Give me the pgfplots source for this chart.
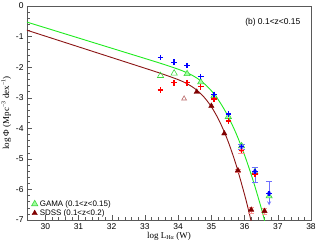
\documentclass[border=0pt]{standalone}
\usepackage{fontspec}
\setmainfont{Liberation Sans}
\newfontfamily\serif{Liberation Serif}
\usepackage{pgfplots}
\pgfplotsset{compat=1.18}
\definecolor{gline}{RGB}{30,235,30}
\definecolor{bline}{RGB}{139,20,20}
\definecolor{gfill}{RGB}{160,255,160}
\definecolor{gedge}{RGB}{60,215,60}
\definecolor{sdss}{RGB}{128,0,0}
\definecolor{obrown}{RGB}{185,105,105}
\definecolor{eblue}{RGB}{110,110,255}
\definecolor{ered}{RGB}{255,150,150}
\begin{document}
\begin{tikzpicture}
\begin{axis}[
  scale only axis, width=284bp, height=214bp,
  xmin=29.45, xmax=38, ymin=-7, ymax=0,
  xtick={30,...,38}, ytick={-7,...,0},
  minor x tick num=4, minor y tick num=4,
  tick align=inside, xtick pos=left, ytick pos=left,
  major tick length=5bp, minor tick length=3bp,
  axis line style={black!65}, every tick/.style={black!65},
  tick label style={font=\fontsize{8.5}{9}\selectfont},
  /pgf/number format/assume math mode=true,
  xlabel={log L\textsubscript{Hα} (W)},
  ylabel={log Φ (Mpc\textsuperscript{−3} dex\textsuperscript{−1})},
  label style={font=\serif\fontsize{9}{10}\selectfont},
  xlabel style={yshift=4pt},
  ylabel style={yshift=-2pt},
  legend style={at={(rel axis cs:0.012,0.0)}, anchor=south west, draw=none, fill=none,
    font=\fontsize{8}{9}\selectfont, row sep=-2pt, inner sep=1pt},
  legend image code/.code={\draw[#1,mark repeat=2,mark phase=2] plot coordinates {(0cm,0cm)(0.15cm,0cm)(0.3cm,0cm)};},
  legend cell align=left,
]
% Fitted curves
\addplot[gline, line width=0.9pt, smooth, forget plot] coordinates {
(29.4,-0.510) (30,-0.711) (31,-1.046) (32,-1.381) (33,-1.716) (33.5,-1.885)
(34,-2.067) (34.25,-2.176) (34.5,-2.314) (34.75,-2.506) (35,-2.772) (35.25,-3.134)
(35.5,-3.601) (35.75,-4.181) (36,-4.876) (36.25,-5.683) (36.5,-6.602) (36.7,-7.42)};
\addplot[bline, line width=0.9pt, smooth, forget plot] coordinates {
(29.4,-0.775) (30,-0.985) (31,-1.335) (32,-1.685) (33,-2.035) (33.5,-2.213)
(34,-2.408) (34.25,-2.532) (34.5,-2.700) (34.75,-2.943) (35,-3.294) (35.25,-3.780)
(35.5,-4.417) (35.75,-5.212) (36,-6.169) (36.1,-6.596) (36.2,-7.05) (36.3,-7.53)};
% GAMA open triangles
\addplot[only marks, mark=triangle, mark size=3.6pt, mark options={draw=gedge, fill=white, line width=0.6pt}, forget plot] coordinates {
(33.47,-2.28) (33.88,-2.20)};
% GAMA filled triangles
\addplot[only marks, mark=triangle*, mark size=3.6pt, mark options={draw=gedge, fill=gfill, line width=0.6pt}, forget plot] coordinates {
(34.27,-2.22) (34.68,-2.49) (35.08,-2.94) (35.51,-3.62) (35.91,-4.58) (36.31,-5.43) (36.74,-6.22)};
% red error bars
\addplot[ered, only marks, mark=none, forget plot,
  error bars/.cd, y dir=both, y explicit, error bar style={ered, line width=0.6pt},
  error mark options={rotate=90, mark size=3.2pt, ered, line width=0.6pt}] coordinates {
(35.91,-4.72) +- (0,0.1) (36.31,-5.47) += (0,0.2) -= (0,0.3)};
% red crosses
\addplot[red, only marks, mark=+, mark size=2.8pt, mark options={red, line width=1.5pt}, forget plot] coordinates {
(33.47,-2.75) (33.88,-2.51) (34.27,-2.51) (34.68,-2.64)
(35.08,-3.04) (35.51,-3.76) (35.91,-4.72) (36.31,-5.50)};
% blue error bars
\addplot[eblue, only marks, mark=none, forget plot,
  error bars/.cd, y dir=both, y explicit, error bar style={eblue, line width=0.7pt},
  error mark options={rotate=90, mark size=3.2pt, eblue, line width=0.6pt}] coordinates {
(35.91,-4.60) +- (0,0.09) (36.31,-5.42) += (0,0.15) -= (0,0.34) (36.74,-6.13) += (0,0.38) -= (0,0)};
% blue crosses
\addplot[blue, only marks, mark=+, mark size=2.8pt, mark options={blue, line width=1.5pt}, forget plot] coordinates {
(33.47,-1.69) (33.88,-1.84) (34.27,-1.95) (34.68,-2.31)
(35.08,-2.89) (35.51,-3.54) (35.91,-4.60) (36.31,-5.42) (36.74,-6.13)};
\addplot[eblue, line width=0.8pt, -stealth, forget plot] coordinates {(36.74,-6.13) (36.74,-6.52)};
% SDSS open triangle
\addplot[only marks, mark=triangle, mark size=2.8pt, mark options={draw=obrown, line width=0.6pt}, forget plot] coordinates {
(34.18,-3.03)};
% SDSS error bars
\addplot[ered, only marks, mark=none, forget plot,
  error bars/.cd, y dir=both, y explicit, error bar style={ered, line width=0.5pt},
  error mark options={rotate=90, mark size=3pt, ered, line width=0.6pt}] coordinates {
(35.8,-5.38) +- (0,0.05) (36.2,-6.67) +- (0,0.1) (36.6,-6.71) +- (0,0.1)};
% SDSS filled triangles
\addplot[sdss, only marks, mark=triangle*, mark size=3.1pt, mark options={draw=sdss, fill=sdss}, forget plot] coordinates {
(34.56,-2.81) (35.0,-3.27) (35.39,-4.17) (35.8,-5.38) (36.2,-6.67) (36.6,-6.71)};
% legend
\addlegendimage{only marks, mark=triangle*, mark size=3.6pt, mark options={draw=gedge, fill=gfill, line width=0.6pt}}
\addlegendentry{GAMA (0.1<z<0.15)}
\addlegendimage{only marks, mark=triangle*, mark size=3.1pt, mark options={draw=sdss, fill=sdss}}
\addlegendentry{SDSS (0.1<z<0.2)}
\node[anchor=east, font=\fontsize{8.5}{9}\selectfont] at (rel axis cs:0.975,0.925) {(b) 0.1<z<0.15};
\end{axis}
\pgfresetboundingbox
\path ([shift={(-27bp,-26bp)}]current axis.south west) rectangle ([shift={(7bp,6bp)}]current axis.north east);
\end{tikzpicture}
\end{document}
